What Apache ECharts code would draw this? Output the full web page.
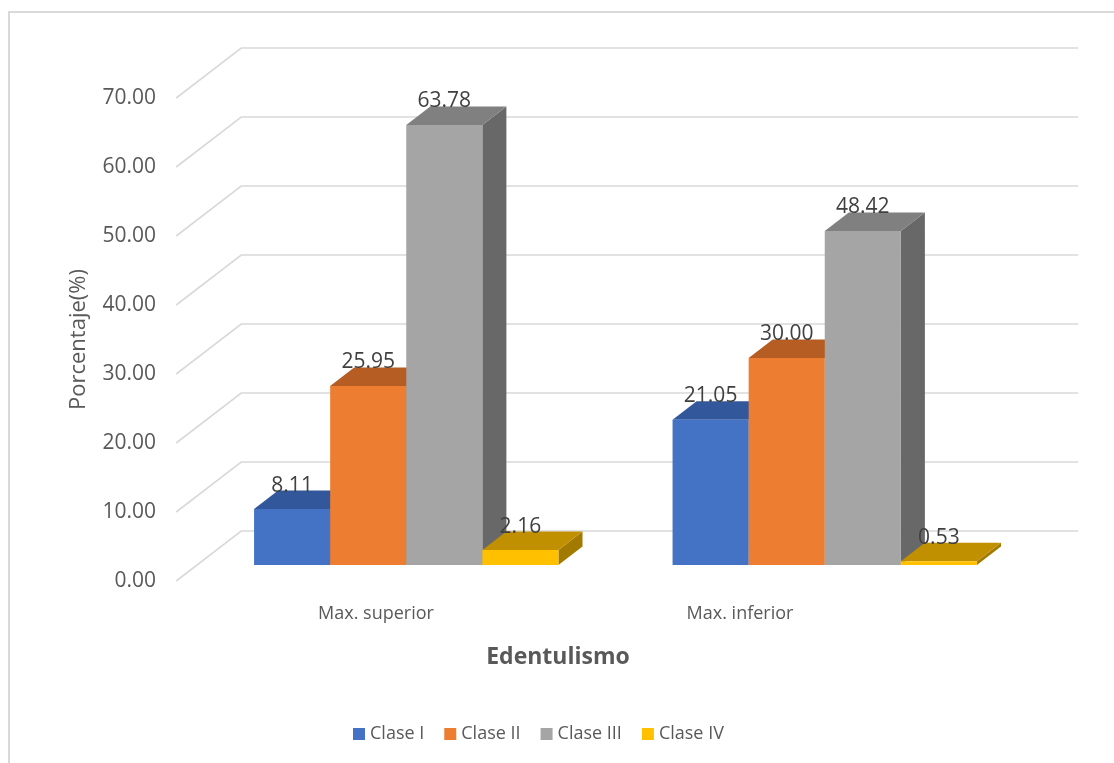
<!DOCTYPE html>
<html>
<head>
<meta charset="utf-8">
<script src="https://cdn.jsdelivr.net/npm/echarts@6/dist/echarts.min.js"></script>
<style>
  html, body { margin: 0; padding: 0; background: #fff; }
  #chart { width: 1114px; height: 763px; }
</style>
</head>
<body>
<div id="chart"></div>
<script>
// Edentulismo: porcentaje por clase en maxilar superior e inferior
const categories = ['Max. superior', 'Max. inferior'];
const seriesNames = ['Clase I', 'Clase II', 'Clase III', 'Clase IV'];
const claseI = [8.11, 21.05];
const claseII = [25.95, 30.00];
const claseIII = [63.78, 48.42];
const claseIV = [2.16, 0.53];
const yTicks = [0, 10, 20, 30, 40, 50, 60, 70];

const FONT = "'Open Sans', 'Noto Sans', sans-serif";
// depth of the 3D floor (px) and where the bars sit inside it
const DEPTH_X = 65, DEPTH_Y = 50;
const BAR_FRONT = 0.32, BAR_BACK = 0.69;

const palette = [
  { front: '#4472C4', top: '#32589B', side: '#2C4F8C' },
  { front: '#ED7D31', top: '#B55D22', side: '#A0501C' },
  { front: '#A5A5A5', top: '#808080', side: '#686868' },
  { front: '#FFC000', top: '#C09000', side: '#A37A00' }
];
const values = [claseI, claseII, claseIII, claseIV];

// walls: diagonal on the left wall + horizontal line on the back wall
function renderGrid(params, api) {
  const cs = params.coordSys;
  const y = api.coord([0, api.value(1)])[1];
  const fx = cs.x - BAR_FRONT * DEPTH_X, fy = y + BAR_FRONT * DEPTH_Y;
  const bk = 1 - BAR_FRONT;
  const bx = cs.x + bk * DEPTH_X, by = y - bk * DEPTH_Y;
  return {
    type: 'polyline',
    shape: { points: [[fx, fy], [bx, by], [cs.x + cs.width + bk * DEPTH_X, by]] },
    style: { stroke: '#d9d9d9', lineWidth: 1.6, fill: null },
    silent: true
  };
}

function makeBarRenderer(si) {
  return function (params, api) {
    const cat = api.value(0), v = api.value(1);
    const top = api.coord([cat, v]);
    const base = api.coord([cat, 0]);
    const band = api.size([1, 0])[0];
    const w = band / 5.5;
    const x0 = top[0] + (si - 2) * w;
    const yt = top[1], yb = base[1];
    const dx = (BAR_BACK - BAR_FRONT) * DEPTH_X, dy = (BAR_BACK - BAR_FRONT) * DEPTH_Y;
    const c = palette[si];
    return {
      type: 'group',
      children: [
        { type: 'polygon', shape: { points: [[x0 + w, yt], [x0 + w + dx, yt - dy], [x0 + w + dx, yb - dy], [x0 + w, yb]] }, style: { fill: c.side } },
        { type: 'polygon', shape: { points: [[x0, yt], [x0 + dx, yt - dy], [x0 + w + dx, yt - dy], [x0 + w, yt]] }, style: { fill: c.top } },
        { type: 'rect', shape: { x: x0, y: yt, width: w, height: yb - yt }, style: { fill: c.front } },
        { type: 'text', style: { text: v.toFixed(2), x: x0 + w / 2, y: yt - dy - 5, align: 'center', verticalAlign: 'middle', fontSize: 21, fontFamily: FONT, fill: '#404040' } }
      ]
    };
  };
}

const series = [{
  type: 'custom', name: 'grid', xAxisIndex: 0, yAxisIndex: 0, z: 1,
  data: yTicks.map(v => [0, v]), renderItem: renderGrid, silent: true
}];
seriesNames.forEach((name, si) => {
  series.push({
    type: 'custom', name: name, xAxisIndex: 0, yAxisIndex: 0, z: 2 + si,
    itemStyle: { color: palette[si].front },
    data: values[si].map((v, i) => [i, v]),
    renderItem: makeBarRenderer(si)
  });
});

const chart = echarts.init(document.getElementById('chart'));
chart.setOption({
  animation: false,
  backgroundColor: '#fff',
  textStyle: { fontFamily: FONT },
  graphic: [{
    type: 'rect', shape: { x: 9, y: 12, width: 1300, height: 900 },
    style: { fill: null, stroke: '#d9d9d9', lineWidth: 2 }, silent: true
  }],
  grid: [
    { left: 197, width: 837, top: 82, height: 483 },   // plane where the bars stand
    { left: 194, width: 728, top: 98, height: 483 }    // front edge: axis labels
  ],
  xAxis: [
    { gridIndex: 0, type: 'category', data: categories, show: false },
    {
      gridIndex: 1, type: 'category', data: categories,
      axisLine: { show: false }, axisTick: { show: false },
      axisLabel: { fontSize: 18, color: '#595959', margin: 24, fontFamily: FONT },
      name: 'Edentulismo', nameLocation: 'middle', nameGap: 65,
      nameTextStyle: { fontSize: 23, fontWeight: 'bold', color: '#595959', fontFamily: FONT }
    }
  ],
  yAxis: [
    { gridIndex: 0, type: 'value', min: 0, max: 70, interval: 10, show: false },
    {
      gridIndex: 1, type: 'value', min: 0, max: 70, interval: 10, offset: 17,
      axisLine: { show: false }, axisTick: { show: false }, splitLine: { show: false },
      axisLabel: { fontSize: 21, color: '#595959', margin: 21, fontFamily: FONT, formatter: v => v.toFixed(2) },
      name: 'Porcentaje(%)', nameLocation: 'middle', nameGap: 87,
      nameTextStyle: { fontSize: 22, color: '#595959', fontFamily: FONT }
    }
  ],
  legend: {
    data: seriesNames, icon: 'rect', itemWidth: 12, itemHeight: 12, itemGap: 20,
    left: 348, top: 720,
    textStyle: { fontSize: 18, color: '#595959', fontFamily: FONT }
  },
  series: series
});
</script>
</body>
</html>
